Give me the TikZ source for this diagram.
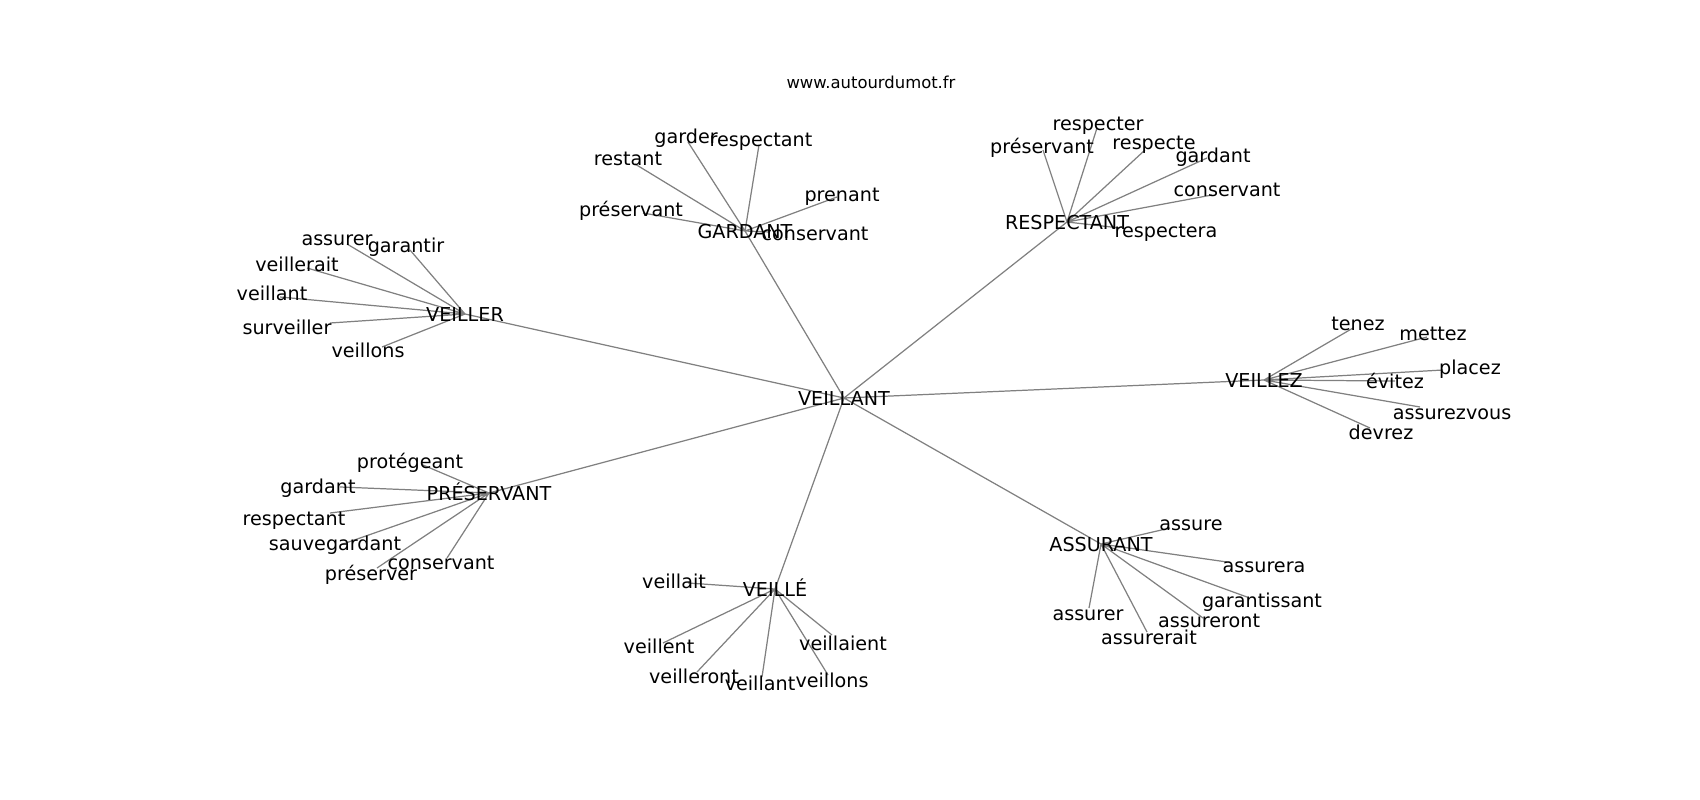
\documentclass[tikz,border=0pt]{standalone}
\usepackage{fontspec}
\setmainfont{DejaVu Sans}
\usetikzlibrary{backgrounds}

\tikzset{
  word/.style={inner sep=0pt, text height=3.98pt, text depth=0pt, font=\fontsize{5.45}{6}\selectfont},
  site/.style={inner sep=0pt, text height=3.4pt, text depth=0pt, font=\fontsize{4.67}{5}\selectfont},
  edge/.style={draw=gray, line width=0.35pt},
}

\begin{document}
\begin{tikzpicture}[x=0.01cm, y=-0.01cm]
      \useasboundingbox (0,0) rectangle (1700,800);
      \node[site] (site) at (871,83) {www.autourdumot.fr};
      % hubs
      \node[word] (veillant) at (844,398) {VEILLANT};
      \node[word] (gardant) at (745,231) {GARDANT};
      \node[word] (respectant) at (1067,222) {RESPECTANT};
      \node[word] (veiller) at (465,314) {VEILLER};
      \node[word] (veillez) at (1264,380) {VEILLEZ};
      \node[word] (preservant) at (489,493) {PRÉSERVANT};
      \node[word] (veille) at (775,589) {VEILLÉ};
      \node[word] (assurant) at (1101,544) {ASSURANT};
      % GARDANT
      \node[word] (ga1) at (686,137) {garder}; \coordinate (ga1e) at (688,142);
      \node[word] (ga2) at (761,139) {respectant}; \coordinate (ga2e) at (759,145);
      \node[word] (ga3) at (628,158) {restant}; \coordinate (ga3e) at (635,164);
      \node[word] (ga4) at (842,194) {prenant}; \coordinate (ga4e) at (837,197);
      \node[word] (ga5) at (631,209) {préservant}; \coordinate (ga5e) at (643,213);
      \node[word] (ga6) at (815,233) {conservant}; \coordinate (ga6e) at (770,232);
      % RESPECTANT
      \node[word] (re1) at (1098,124) {respecter}; \coordinate (re1e) at (1097,128);
      \node[word] (re2) at (1042,146) {préservant}; \coordinate (re2e) at (1043,150);
      \node[word] (re3) at (1154,142) {respecte}; \coordinate (re3e) at (1145,150);
      \node[word] (re4) at (1213,155) {gardant}; \coordinate (re4e) at (1207,158);
      \node[word] (re5) at (1227,189) {conservant}; \coordinate (re5e) at (1212,195);
      \node[word] (re6) at (1166,230) {respectera}; \coordinate (re6e) at (1120,228);
      % VEILLER
      \node[word] (vr1) at (337,238) {assurer}; \coordinate (vr1e) at (347,244);
      \node[word] (vr2) at (406,245) {garantir}; \coordinate (vr2e) at (410,250);
      \node[word] (vr3) at (297,264) {veillerait}; \coordinate (vr3e) at (307,268);
      \node[word] (vr4) at (272,293) {veillant}; \coordinate (vr4e) at (280,297);
      \node[word] (vr5) at (287,327) {surveiller}; \coordinate (vr5e) at (330,323);
      \node[word] (vr6) at (368,350) {veillons}; \coordinate (vr6e) at (382,347);
      % VEILLEZ
      \node[word] (vz1) at (1358,323) {tenez}; \coordinate (vz1e) at (1353,328);
      \node[word] (vz2) at (1433,333) {mettez}; \coordinate (vz2e) at (1427,337);
      \node[word] (vz3) at (1470,367) {placez}; \coordinate (vz3e) at (1443,370);
      \node[word] (vz4) at (1395,381) {évitez}; \coordinate (vz4e) at (1395,381);
      \node[word] (vz5) at (1452,412) {assurezvous}; \coordinate (vz5e) at (1420,407);
      \node[word] (vz6) at (1381,432) {devrez}; \coordinate (vz6e) at (1370,428);
      % PRESERVANT
      \node[word] (pr1) at (410,461) {protégeant}; \coordinate (pr1e) at (423,465);
      \node[word] (pr2) at (318,486) {gardant}; \coordinate (pr2e) at (340,487);
      \node[word] (pr3) at (294,518) {respectant}; \coordinate (pr3e) at (330,513);
      \node[word] (pr4) at (335,543) {sauvegardant}; \coordinate (pr4e) at (340,545);
      \node[word] (pr5) at (371,573) {préserver}; \coordinate (pr5e) at (377,568);
      \node[word] (pr6) at (441,562) {conservant}; \coordinate (pr6e) at (447,558);
      % VEILLE
      \node[word] (ve1) at (674,581) {veillait}; \coordinate (ve1e) at (688,583);
      \node[word] (ve2) at (659,646) {veillent}; \coordinate (ve2e) at (663,643);
      \node[word] (ve3) at (694,676) {veilleront}; \coordinate (ve3e) at (697,672);
      \node[word] (ve4) at (760,683) {veillant}; \coordinate (ve4e) at (762,677);
      \node[word] (ve5) at (832,680) {veillons}; \coordinate (ve5e) at (828,675);
      \node[word] (ve6) at (843,643) {veillaient}; \coordinate (ve6e) at (832,635);
      % ASSURANT
      \node[word] (as1) at (1191,523) {assure}; \coordinate (as1e) at (1170,528);
      \node[word] (as2) at (1264,565) {assurera}; \coordinate (as2e) at (1227,562);
      \node[word] (as3) at (1262,600) {garantissant}; \coordinate (as3e) at (1247,597);
      \node[word] (as4) at (1209,620) {assureront}; \coordinate (as4e) at (1203,618);
      \node[word] (as5) at (1088,613) {assurer}; \coordinate (as5e) at (1089,608);
      \node[word] (as6) at (1149,637) {assurerait}; \coordinate (as6e) at (1147,632);
      % edges under the words
      \begin{scope}[on background layer]
        \draw[edge] (veillant.center) -- (gardant.center) (veillant.center) -- (respectant.center)
          (veillant.center) -- (veiller.center) (veillant.center) -- (veillez.center)
          (veillant.center) -- (preservant.center) (veillant.center) -- (veille.center)
          (veillant.center) -- (assurant.center);
        \draw[edge] (gardant.center) -- (ga1e) (gardant.center) -- (ga2e) (gardant.center) -- (ga3e)
          (gardant.center) -- (ga4e) (gardant.center) -- (ga5e) (gardant.center) -- (ga6e);
        \draw[edge] (respectant.center) -- (re1e) (respectant.center) -- (re2e) (respectant.center) -- (re3e)
          (respectant.center) -- (re4e) (respectant.center) -- (re5e) (respectant.center) -- (re6e);
        \draw[edge] (veiller.center) -- (vr1e) (veiller.center) -- (vr2e) (veiller.center) -- (vr3e)
          (veiller.center) -- (vr4e) (veiller.center) -- (vr5e) (veiller.center) -- (vr6e);
        \draw[edge] (veillez.center) -- (vz1e) (veillez.center) -- (vz2e) (veillez.center) -- (vz3e)
          (veillez.center) -- (vz4e) (veillez.center) -- (vz5e) (veillez.center) -- (vz6e);
        \draw[edge] (preservant.center) -- (pr1e) (preservant.center) -- (pr2e) (preservant.center) -- (pr3e)
          (preservant.center) -- (pr4e) (preservant.center) -- (pr5e) (preservant.center) -- (pr6e);
        \draw[edge] (veille.center) -- (ve1e) (veille.center) -- (ve2e) (veille.center) -- (ve3e)
          (veille.center) -- (ve4e) (veille.center) -- (ve5e) (veille.center) -- (ve6e);
        \draw[edge] (assurant.center) -- (as1e) (assurant.center) -- (as2e) (assurant.center) -- (as3e)
          (assurant.center) -- (as4e) (assurant.center) -- (as5e) (assurant.center) -- (as6e);
      \end{scope}
    \end{tikzpicture}
\end{document}
